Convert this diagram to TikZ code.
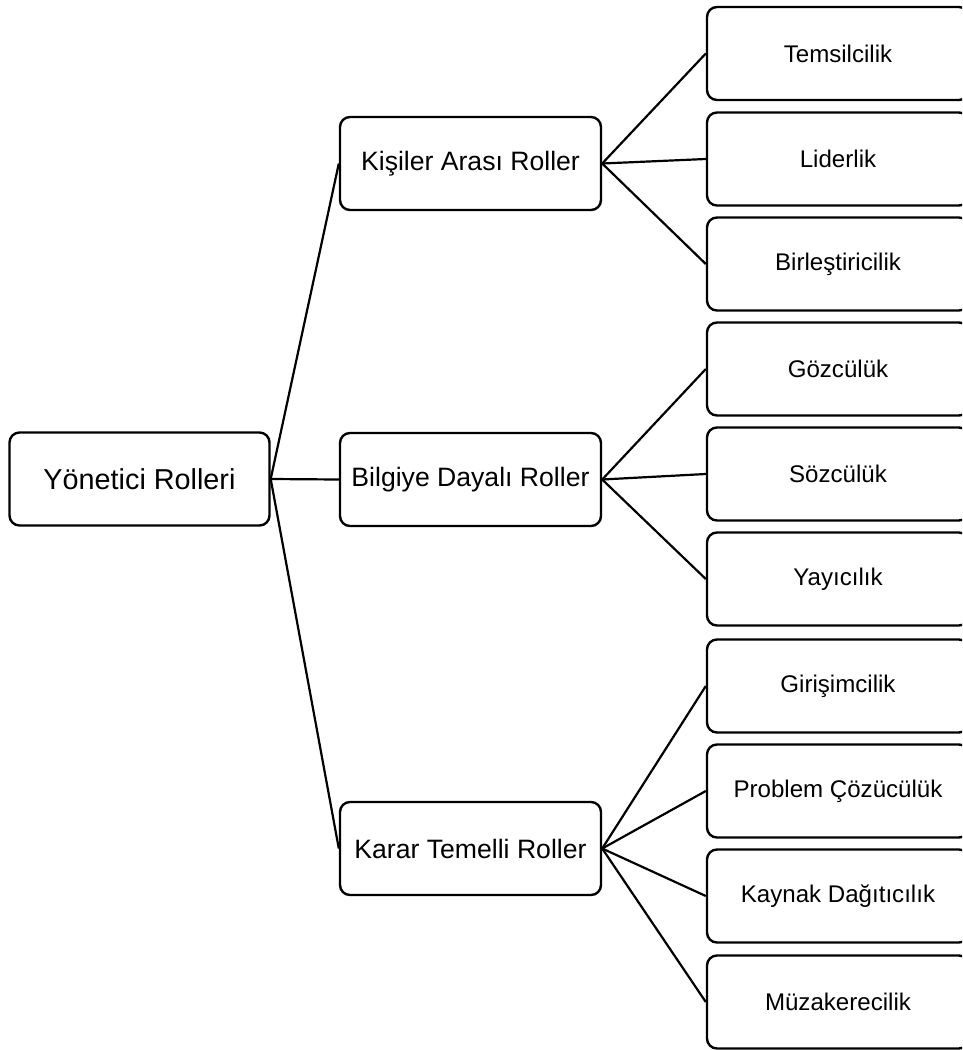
\documentclass[tikz,border=0pt]{standalone}
\usepackage{fontspec}
\setmainfont{Liberation Sans}
\begin{document}
\begin{tikzpicture}[x=1pt,y=-1pt,
  box/.style={draw=black, line width=2.4pt, rounded corners=10pt, fill=white,
    inner sep=0pt, minimum height=93pt},
  rootbox/.style={box, minimum width=260pt, font=\fontsize{28.8}{34}\selectfont},
  midbox/.style={box, minimum width=261pt, font=\fontsize{26.6}{32}\selectfont},
  leafbox/.style={box, minimum width=262pt, font=\fontsize{24.1}{29}\selectfont},
  link/.style={draw=black, line width=2.2pt}]
\useasboundingbox (0,0) rectangle (962,1050);
\begin{scope}
\clip (0,0) rectangle (962,1050);

% root and the three role groups
\node[rootbox] (root) at (139.5,479) {Yönetici Rolleri};
\node[midbox] (kisi) at (470.5,163.5) {Kişiler Arası Roller};
\node[midbox] (bilgi) at (470.5,479.5) {Bilgiye Dayalı Roller};
\node[midbox] (karar) at (470.5,848.5) {Karar Temelli Roller};

% individual roles
\node[leafbox] (l1) at (838,53.5) {Temsilcilik};
\node[leafbox] (l2) at (838,159) {Liderlik};
\node[leafbox] (l3) at (838,264) {Birleştiricilik};
\node[leafbox] (l4) at (838,369) {Gözcülük};
\node[leafbox] (l5) at (838,474) {Sözcülük};
\node[leafbox] (l6) at (838,579) {Yayıcılık};
\node[leafbox] (l7) at (838,686) {Girişimcilik};
\node[leafbox] (l8) at (838,791) {Problem Çözücülük};
\node[leafbox] (l9) at (838,896) {Kaynak Dağıtıcılık};
\node[leafbox] (l10) at (838,1002) {Müzakerecilik};

% connectors
\foreach \m in {kisi,bilgi,karar}
  \draw[link] (root.east) -- (\m.west);
\foreach \l in {l1,l2,l3}
  \draw[link] (kisi.east) -- (\l.west);
\foreach \l in {l4,l5,l6}
  \draw[link] (bilgi.east) -- (\l.west);
\foreach \l in {l7,l8,l9,l10}
  \draw[link] (karar.east) -- (\l.west);
\end{scope}
\end{tikzpicture}
\end{document}
